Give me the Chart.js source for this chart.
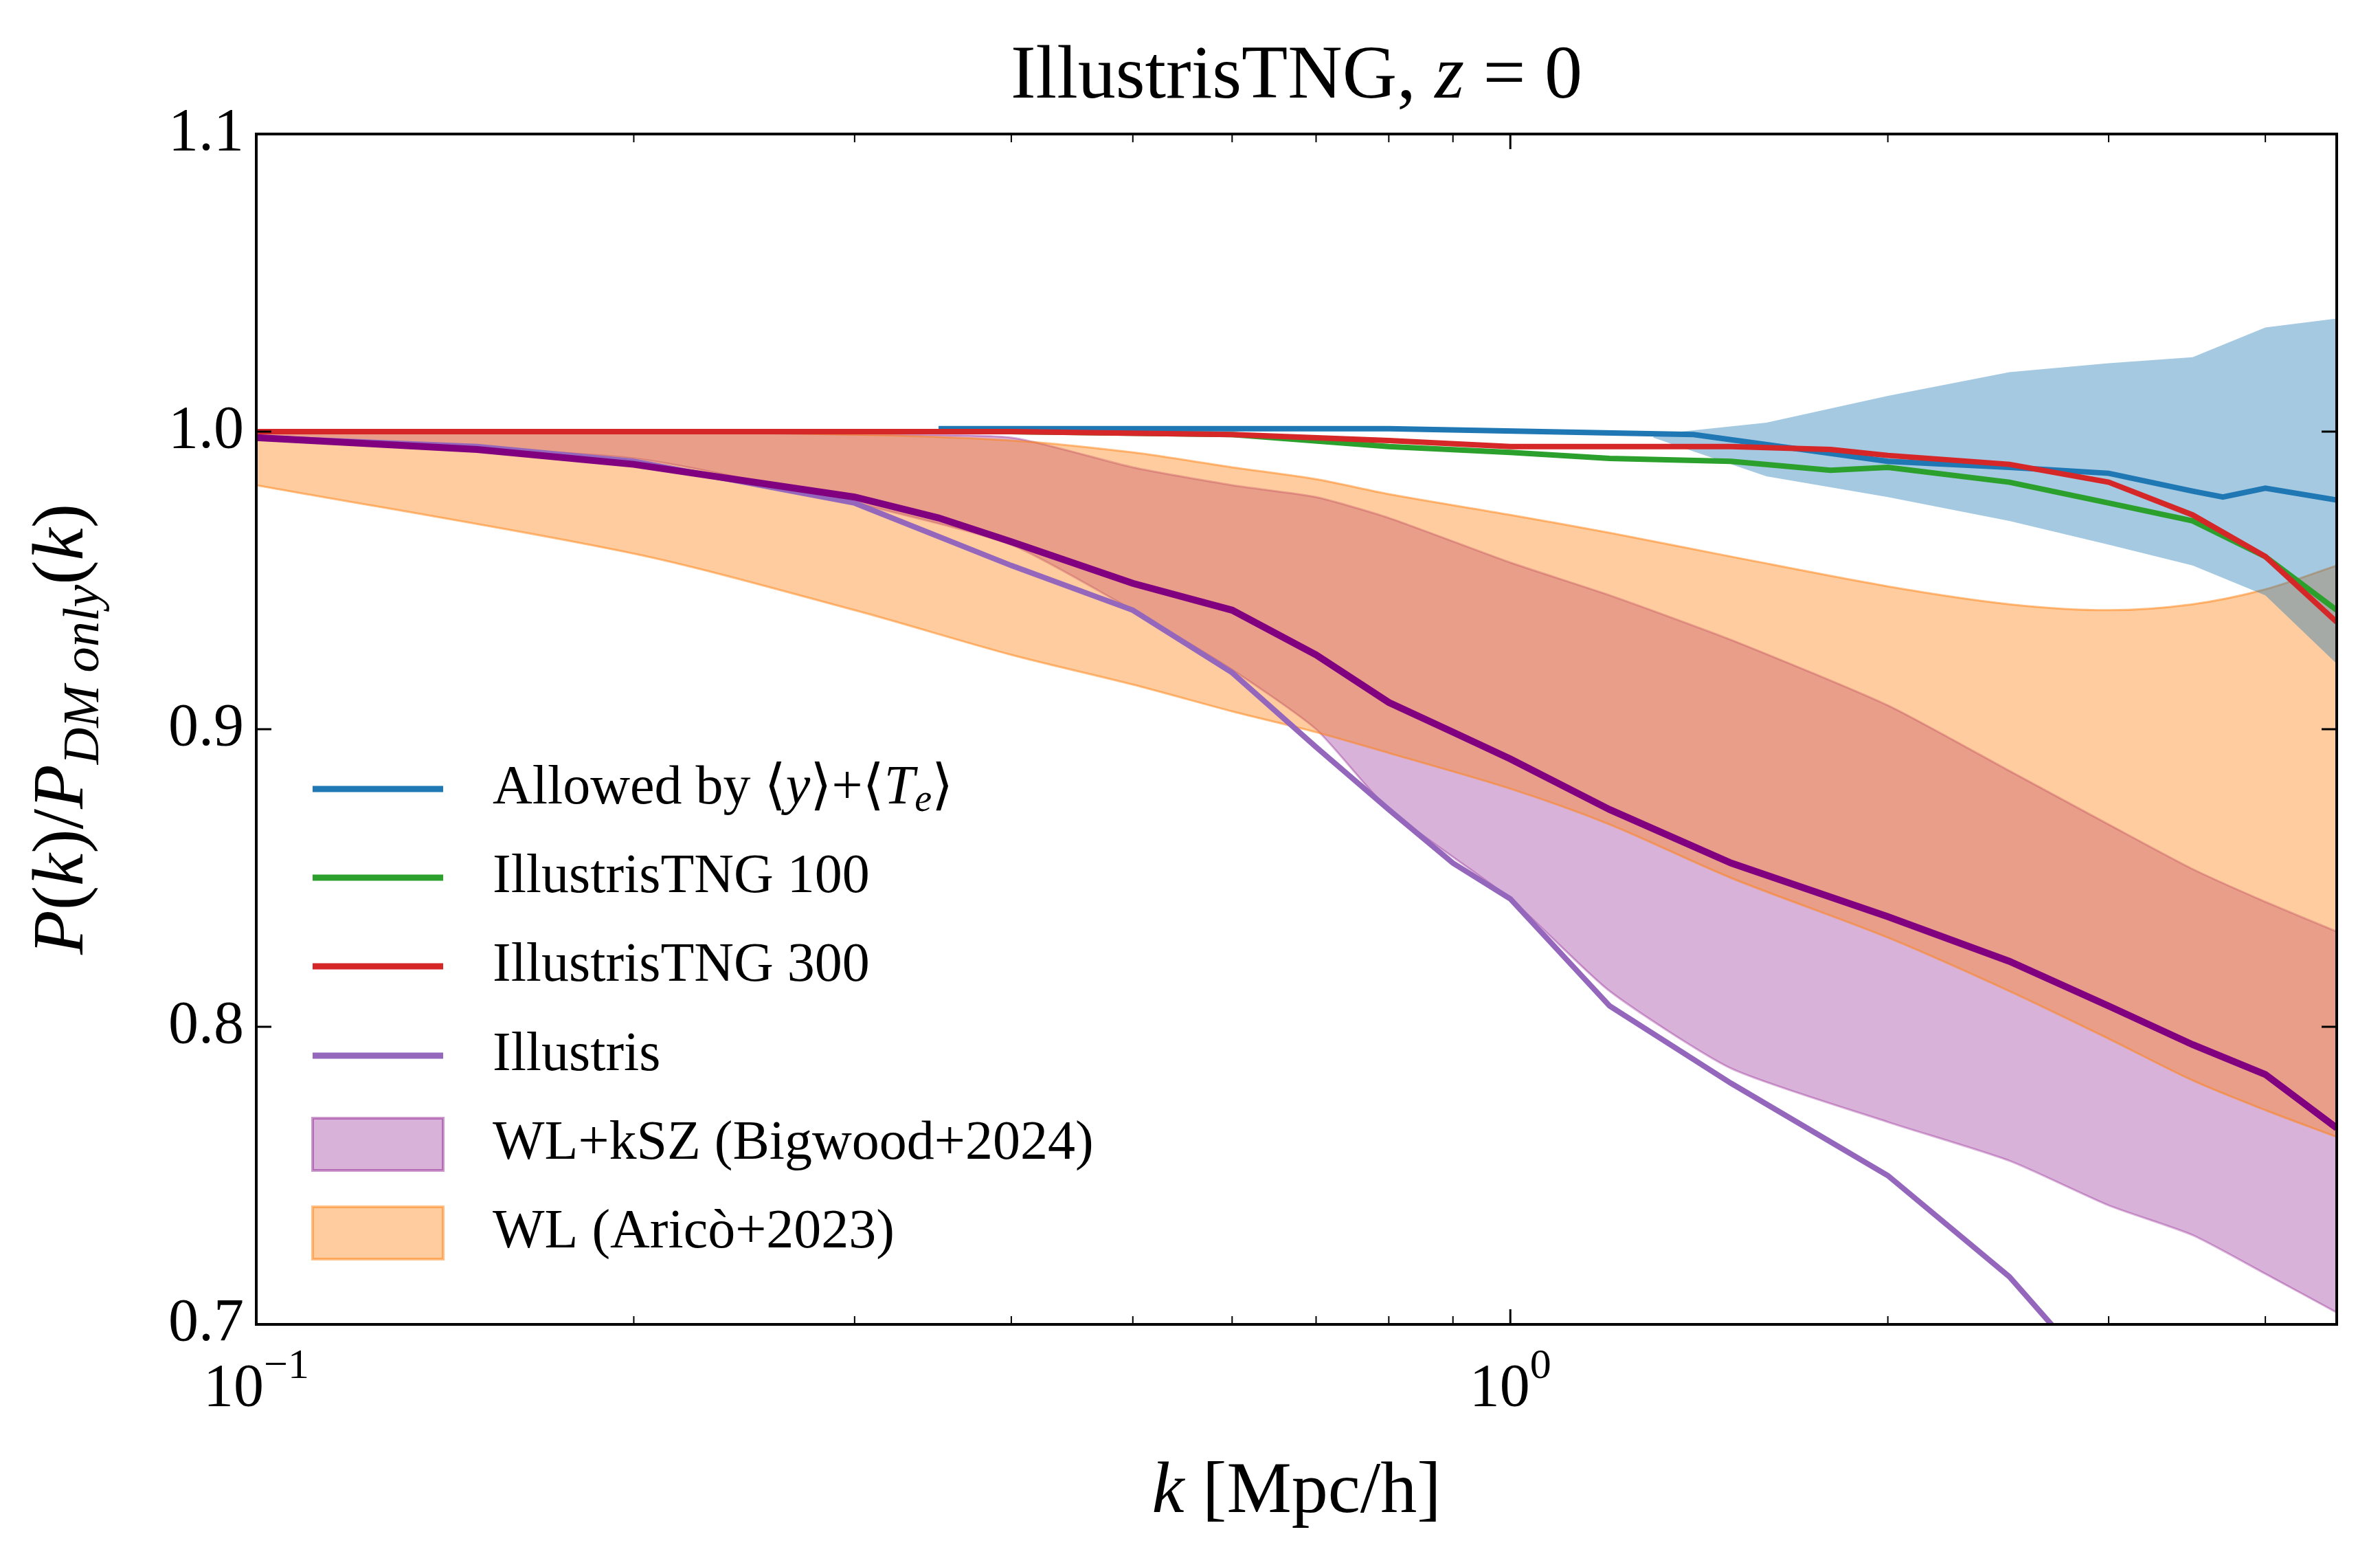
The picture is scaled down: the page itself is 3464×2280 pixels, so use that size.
<!DOCTYPE html>
<html>
<head>
<meta charset="utf-8">
<script src="https://cdn.jsdelivr.net/npm/chart.js@4"></script>
<style>
  html, body { margin: 0; padding: 0; background: #fff; }
  #wrap { width: 3464px; height: 2280px; }
</style>
</head>
<body>
<div id="wrap"><canvas id="myChart"></canvas></div>
<script>
// k values (Mpc/h) and curves
var kMain = [0.1, 0.15, 0.2, 0.3, 0.35, 0.4, 0.5, 0.6, 0.7, 0.8, 0.9, 1.0, 1.2, 1.5, 2, 2.5, 3, 3.5, 4, 4.56];
var tngPurple = [0.998, 0.994, 0.989, 0.978, 0.971, 0.963, 0.949, 0.940, 0.925, 0.909, 0.899, 0.890, 0.873, 0.855, 0.837, 0.822, 0.807, 0.794, 0.784, 0.766];

var kIll = [0.1, 0.15, 0.2, 0.3, 0.4, 0.5, 0.6, 0.7, 0.8, 0.9, 1.0, 1.2, 1.5, 2, 2.5, 2.7, 3];
var illustris = [0.998, 0.995, 0.990, 0.976, 0.955, 0.940, 0.919, 0.894, 0.873, 0.855, 0.843, 0.807, 0.781, 0.750, 0.716, 0.700, 0.685];

var kTng = [0.1, 0.2, 0.4, 0.6, 0.8, 1.0, 1.2, 1.5, 1.8, 2, 2.5, 3, 3.5, 4, 4.56];
var tng300 = [1.000, 1.000, 1.000, 0.999, 0.997, 0.995, 0.995, 0.995, 0.994, 0.992, 0.989, 0.983, 0.972, 0.958, 0.936];
var tng100 = [1.000, 1.000, 1.000, 0.999, 0.995, 0.993, 0.991, 0.990, 0.987, 0.988, 0.983, 0.976, 0.970, 0.958, 0.940];

var kAllowed = [0.35, 0.8, 1.4, 2, 2.5, 3, 3.5, 3.7, 4, 4.56];
var allowed = [1.001, 1.001, 0.999, 0.990, 0.988, 0.986, 0.980, 0.978, 0.981, 0.977];
var kAllowBand = [1.3, 1.6, 2, 2.5, 3, 3.5, 4, 4.56];
var allowUpper = [0.999, 1.003, 1.012, 1.020, 1.023, 1.025, 1.035, 1.038];
var allowLower = [0.998, 0.985, 0.978, 0.970, 0.962, 0.955, 0.945, 0.922];

var kBand = [0.1, 0.2, 0.3, 0.4, 0.5, 0.6, 0.7, 0.8, 1.0, 1.2, 1.5, 2, 2.5, 3, 3.5, 4, 4.56];
var aricoUpper = [1.000, 1.000, 0.999, 0.997, 0.993, 0.988, 0.984, 0.979, 0.972, 0.966, 0.958, 0.948, 0.942, 0.940, 0.942, 0.947, 0.955];
var aricoLower = [0.982, 0.959, 0.940, 0.925, 0.915, 0.906, 0.899, 0.892, 0.880, 0.868, 0.850, 0.830, 0.812, 0.796, 0.782, 0.772, 0.763];
var bigwoodUpper = [1.000, 1.000, 0.999, 0.998, 0.988, 0.982, 0.978, 0.971, 0.956, 0.945, 0.930, 0.908, 0.886, 0.868, 0.853, 0.842, 0.832];
var bigwoodLower = [0.998, 0.991, 0.976, 0.962, 0.940, 0.920, 0.900, 0.873, 0.843, 0.812, 0.786, 0.768, 0.755, 0.740, 0.730, 0.717, 0.704];

var yTicks = [0.7, 0.8, 0.9, 1.0, 1.1];
var xMajor = [0.1, 1];
var xMinor = [0.2, 0.3, 0.4, 0.5, 0.6, 0.7, 0.8, 0.9, 2, 3, 4];

function pts(xs, ys) { return xs.map(function (x, i) { return { x: x, y: ys[i] }; }); }

var SERIF = '"Liberation Serif", "DejaVu Serif", serif';

var legendItems = [
    { type: 'line', color: '#1f77b4', parts: [['Allowed by \u27E8', ''], ['y', 'i'], ['\u27E9+\u27E8', ''], ['T', 'i'], ['e', 'sub'], ['\u27E9', '']] },
    { type: 'line', color: '#2ca02c', parts: [['IllustrisTNG 100', '']] },
    { type: 'line', color: '#d62728', parts: [['IllustrisTNG 300', '']] },
    { type: 'line', color: '#9467bd', parts: [['Illustris', '']] },
    { type: 'patch', color: 'rgba(128,0,128,0.3)', edge: 'rgba(128,0,128,0.4)', parts: [['WL+kSZ (Bigwood+2024)', '']] },
    { type: 'patch', color: 'rgba(255,127,14,0.4)', edge: 'rgba(255,127,14,0.5)', parts: [['WL (Aric\u00F2+2023)', '']] }
];

function drawParts(c, parts, x, y, size) {
    parts.forEach(function (p) {
        var s = size, dy = 0, style = '';
        if (p[1] === 'i') style = 'italic ';
        if (p[1] === 'sub') { style = 'italic '; s = size * 0.7; dy = size * 0.22; }
        c.font = style + s + 'px ' + SERIF;
        c.fillText(p[0], x, y + dy);
        x += c.measureText(p[0]).width;
    });
    return x;
}
function partsWidth(c, parts, size) {
    var w = 0;
    parts.forEach(function (p) {
        var s = p[1] === 'sub' ? size * 0.7 : size;
        c.font = (p[1] ? 'italic ' : '') + s + 'px ' + SERIF;
        w += c.measureText(p[0]).width;
    });
    return w;
}

var decor = {
    id: 'decor',
    afterDraw: function (chart) {
        var c = chart.ctx, a = chart.chartArea;
        var xs = chart.scales.x, ys = chart.scales.y;
        c.save();
        c.fillStyle = '#000';
        c.strokeStyle = '#000';
        // frame
        c.lineWidth = 4;
        c.strokeRect(a.left, a.top, a.right - a.left, a.bottom - a.top);
        // ticks, inward
        c.lineWidth = 3;
        yTicks.forEach(function (v) {
            var py = ys.getPixelForValue(v);
            c.beginPath();
            c.moveTo(a.left, py); c.lineTo(a.left + 22, py);
            c.moveTo(a.right, py); c.lineTo(a.right - 22, py);
            c.stroke();
        });
        xMajor.forEach(function (v) {
            var px = xs.getPixelForValue(v);
            c.beginPath();
            c.moveTo(px, a.bottom); c.lineTo(px, a.bottom - 22);
            c.moveTo(px, a.top); c.lineTo(px, a.top + 22);
            c.stroke();
        });
        c.lineWidth = 2;
        xMinor.forEach(function (v) {
            var px = xs.getPixelForValue(v);
            c.beginPath();
            c.moveTo(px, a.bottom); c.lineTo(px, a.bottom - 12);
            c.moveTo(px, a.top); c.lineTo(px, a.top + 12);
            c.stroke();
        });
        // y tick labels
        c.font = '88px ' + SERIF;
        c.textAlign = 'right';
        c.textBaseline = 'middle';
        yTicks.forEach(function (v) {
            c.fillText(v.toFixed(1), a.left - 18, ys.getPixelForValue(v));
        });
        // x tick labels 10^-1, 10^0
        c.textBaseline = 'alphabetic';
        c.textAlign = 'left';
        xMajor.forEach(function (v) {
            var px = xs.getPixelForValue(v);
            var exp = v === 0.1 ? '\u22121' : '0';
            c.font = '88px ' + SERIF;
            var w1 = c.measureText('10').width;
            c.font = '62px ' + SERIF;
            var w2 = c.measureText(exp).width;
            var x0 = px - (w1 + w2) / 2;
            c.font = '88px ' + SERIF;
            c.fillText('10', x0, a.bottom + 118);
            c.font = '62px ' + SERIF;
            c.fillText(exp, x0 + w1, a.bottom + 78);
        });
        // title
        var tparts = [['IllustrisTNG, ', ''], ['z', 'i'], [' = 0', '']];
        var tw = partsWidth(c, tparts, 110);
        drawParts(c, tparts, (a.left + a.right) / 2 - tw / 2, 142, 110);
        // x label
        var xparts = [['k', 'i'], [' [Mpc/h]', '']];
        var xw = partsWidth(c, xparts, 106);
        drawParts(c, xparts, (a.left + a.right) / 2 - xw / 2, 2200, 106);
        // y label
        c.save();
        c.translate(120, (a.top + a.bottom) / 2);
        c.rotate(-Math.PI / 2);
        var yparts = [['P', 'i'], ['(', ''], ['k', 'i'], [')/', ''], ['P', 'i'], ['DM only', 'sub'], ['(', ''], ['k', 'i'], [')', '']];
        var yw = partsWidth(c, yparts, 106);
        drawParts(c, yparts, -yw / 2, 0, 106);
        c.restore();
        // legend
        var rowY = [1148, 1277, 1406, 1536, 1665, 1794];
        legendItems.forEach(function (it, i) {
            var y = rowY[i];
            if (it.type === 'line') {
                c.strokeStyle = it.color;
                c.lineWidth = 9;
                c.beginPath(); c.moveTo(455, y); c.lineTo(645, y); c.stroke();
            } else {
                c.fillStyle = it.color;
                c.fillRect(455, y - 38, 190, 76);
                c.strokeStyle = it.edge;
                c.lineWidth = 4;
                c.strokeRect(455, y - 38, 190, 76);
            }
            c.fillStyle = '#000';
            c.textBaseline = 'middle';
            drawParts(c, it.parts, 717, y, 80);
        });
        c.restore();
    }
};

var ctx = document.getElementById('myChart').getContext('2d');
var chart = new Chart(ctx, {
    type: 'line',
    data: {
        datasets: [
            // bands
            { data: pts(kBand, aricoUpper), borderColor: 'rgba(255,127,14,0.5)', borderWidth: 3, backgroundColor: 'rgba(255,127,14,0.4)', fill: '+1', order: 8, tension: 0.3 },
            { data: pts(kBand, aricoLower), borderColor: 'rgba(255,127,14,0.5)', borderWidth: 3, fill: false, order: 8, tension: 0.3 },
            { data: pts(kBand, bigwoodUpper), borderColor: 'rgba(128,0,128,0.3)', borderWidth: 3, backgroundColor: 'rgba(128,0,128,0.3)', fill: '+1', order: 9, tension: 0.2 },
            { data: pts(kBand, bigwoodLower), borderColor: 'rgba(128,0,128,0.3)', borderWidth: 3, fill: false, order: 9, tension: 0.2 },
            { data: pts(kAllowBand, allowUpper), borderWidth: 0, borderColor: 'rgba(0,0,0,0)', backgroundColor: 'rgba(31,119,180,0.4)', fill: '+1', order: 7 },
            { data: pts(kAllowBand, allowLower), borderWidth: 0, borderColor: 'rgba(0,0,0,0)', fill: false, order: 7 },
            // lines
            { data: pts(kIll, illustris), borderColor: '#9467bd', borderWidth: 8, fill: false, order: 3 },
            { data: pts(kMain, tngPurple), borderColor: '#800080', borderWidth: 10, fill: false, order: 2 },
            { data: pts(kTng, tng100), borderColor: '#2ca02c', borderWidth: 8, fill: false, order: 1 },
            { data: pts(kTng, tng300), borderColor: '#d62728', borderWidth: 8, fill: false, order: 0 },
            { data: pts(kAllowed, allowed), borderColor: '#1f77b4', borderWidth: 8, fill: false, order: 0 }
        ]
    },
    options: {
        responsive: true,
        maintainAspectRatio: false,
        animation: false,
        devicePixelRatio: 1,
        elements: { point: { radius: 0 } },
        layout: { padding: { top: 195, right: 63, left: 0, bottom: 0 } },
        plugins: { legend: { display: false }, tooltip: { enabled: false } },
        scales: {
            x: {
                type: 'logarithmic', min: 0.1, max: 4.56,
                grid: { display: false }, border: { display: false },
                ticks: { display: false },
                afterFit: function (s) { s.height = 353; }
            },
            y: {
                type: 'linear', min: 0.7, max: 1.1,
                grid: { display: false }, border: { display: false },
                ticks: { display: false },
                afterFit: function (s) { s.width = 373; }
            }
        }
    },
    plugins: [decor]
});
</script>
</body>
</html>
